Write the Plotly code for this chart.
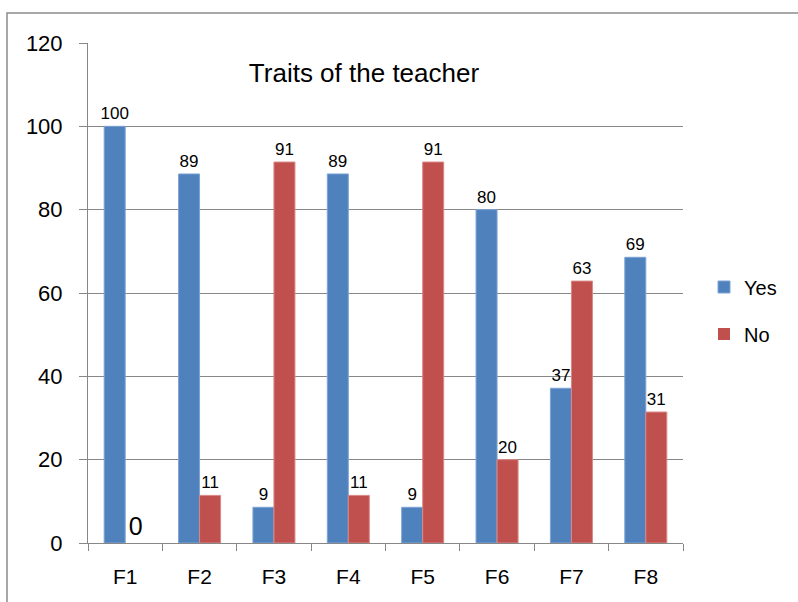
import plotly.graph_objects as go

categories = ["F1", "F2", "F3", "F4", "F5", "F6", "F7", "F8"]
yes_values = [100, 88.57, 8.57, 88.57, 8.57, 80, 37.14, 68.57]
no_values = [0, 11.43, 91.43, 11.43, 91.43, 20, 62.86, 31.43]
y_ticks = [0, 20, 40, 60, 80, 100, 120]
title_text = "Traits of the teacher"

FONT = "Liberation Sans, Arial, sans-serif"
BLUE = "#4F81BD"
RED = "#C0504D"
GRID = "#878787"

label_sizes_no = [25 if v == 0 else 17 for v in no_values]
edge_no = [0 if v == 0 else 1 for v in no_values]

fig = go.Figure()
fig.add_trace(go.Bar(
    x=categories, y=yes_values, name="Yes",
    marker=dict(color=BLUE, line=dict(color="#7EA3D6", width=1)),
    texttemplate="%{y:.0f}", textposition="outside", constraintext="none",
    textfont=dict(family=FONT, size=17, color="black"),
    cliponaxis=False, legend="legend",
))
fig.add_trace(go.Bar(
    x=categories, y=no_values, name="No",
    marker=dict(color=RED, line=dict(color="#D98886", width=edge_no)),
    texttemplate="%{y:.0f}", textposition="outside", constraintext="none",
    textfont=dict(family=FONT, size=label_sizes_no, color="black"),
    cliponaxis=False, legend="legend2",
))

fig.update_layout(
    width=798, height=602,
    margin=dict(l=88, r=115, t=43, b=59, autoexpand=False),
    paper_bgcolor="white", plot_bgcolor="white",
    barmode="group", bargap=0.435, bargroupgap=0,
    font=dict(family=FONT, color="black"),
    title=dict(text=title_text, x=364 / 798, y=1 - 73 / 602,
               xanchor="center", yanchor="middle", xref="container", yref="container",
               font=dict(family=FONT, size=26, color="black")),
    xaxis=dict(
        showline=True, linecolor=GRID, linewidth=1,
        ticks="outside", tickson="boundaries", ticklen=7, tickcolor=GRID,
        tickfont=dict(family=FONT, size=21),
        showgrid=False, ticklabelstandoff=15,
    ),
    yaxis=dict(
        range=[0, 120], tickvals=y_ticks,
        showline=True, linecolor=GRID, linewidth=1,
        ticks="outside", ticklen=8, tickcolor=GRID,
        showgrid=True, gridcolor=GRID, gridwidth=1,
        tickfont=dict(family=FONT, size=22), ticklabelstandoff=12,
        zeroline=False,
    ),
    legend=dict(x=(704 - 88) / 595, y=(543 - 287) / 500, xanchor="left", yanchor="middle",
                font=dict(family=FONT, size=20), bgcolor="rgba(0,0,0,0)"),
    legend2=dict(x=(704 - 88) / 595, y=(543 - 334) / 500, xanchor="left", yanchor="middle",
                 font=dict(family=FONT, size=20), bgcolor="rgba(0,0,0,0)"),
    shapes=[dict(type="rect", xref="paper", yref="paper",
                 x0=(7 - 88) / 595, x1=2.0, y0=-1.0, y1=(543 - 13) / 500,
                 line=dict(color="#8C8C8C", width=1.5), fillcolor="rgba(0,0,0,0)",
                 layer="below")],
    showlegend=True,
)

fig.write_html("out.html", config={"displayModeBar": False},
               post_script="document.body.style.margin='0';document.body.style.overflow='hidden';")
